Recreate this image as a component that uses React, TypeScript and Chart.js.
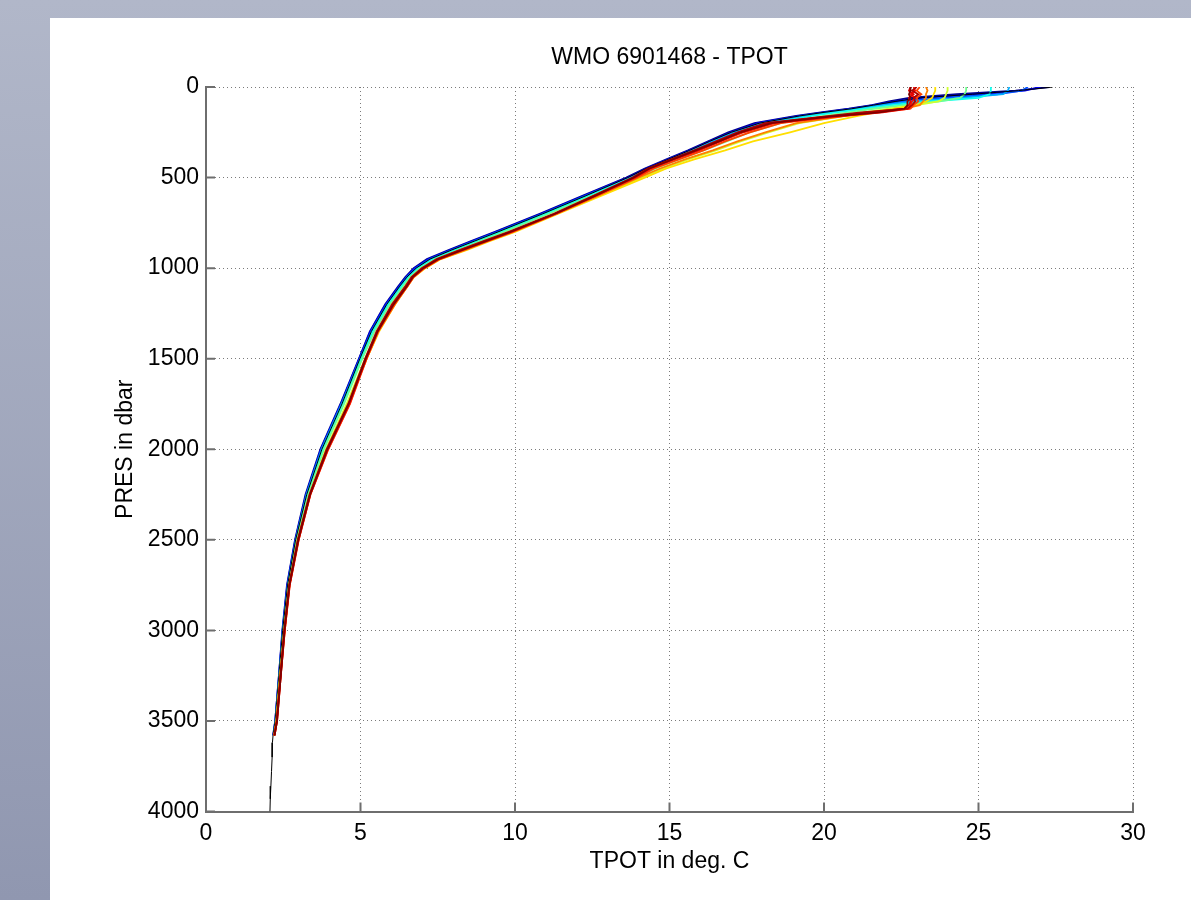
import React, { useEffect, useRef } from "react";
import { Chart, registerables } from "chart.js";

Chart.register(...registerables);

const TITLE = "WMO 6901468 - TPOT";
const X_LABEL = "TPOT in deg. C";
const Y_LABEL = "PRES in dbar";
const X_TICKS = [0, 5, 10, 15, 20, 25, 30];
const Y_TICKS = [0, 500, 1000, 1500, 2000, 2500, 3000, 3500, 4000];

// shared pressure levels (dbar) of the coloured profiles
const PRES = [0, 20, 40, 60, 80, 100, 120, 140, 160, 200, 250, 300, 350, 400, 450, 500, 600, 700, 800, 850, 900, 950, 1000, 1050, 1100, 1200, 1350, 1500, 1750, 2000, 2250, 2500, 2750, 3000, 3250, 3500, 3580];

// potential temperature (deg C) of each profile at PRES
const TPOT_P01 = [27.3, 26.2, 24.3, 22.75, 22.1, 21.55, 20.8, 19.9, 19.1, 17.75, 16.9, 16.25, 15.6, 14.9, 14.2, 13.6, 12.2, 10.8, 9.35, 8.6, 7.85, 7.15, 6.72, 6.45, 6.22, 5.8, 5.3, 4.95, 4.35, 3.7, 3.22, 2.88, 2.62, 2.47, 2.36, 2.24, 2.17];
const TPOT_P02 = [27.0, 26.5, 25.0, 23.2, 22.3, 21.6, 20.9, 20.0, 19.2, 17.85, 17.0, 16.3, 15.65, 14.95, 14.25, 13.65, 12.25, 10.85, 9.4, 8.65, 7.9, 7.2, 6.75, 6.48, 6.25, 5.82, 5.32, 4.96, 4.37, 3.72, 3.24, 2.89, 2.63, 2.48, 2.36, 2.24, 2.18];
const TPOT_P03 = [26.6, 26.4, 25.6, 23.8, 22.5, 21.7, 21.0, 20.1, 19.3, 17.95, 17.05, 16.35, 15.7, 15.0, 14.3, 13.7, 12.3, 10.9, 9.45, 8.7, 7.95, 7.25, 6.8, 6.5, 6.28, 5.85, 5.35, 4.98, 4.38, 3.73, 3.25, 2.9, 2.64, 2.48, 2.37, 2.25, 2.18];
const TPOT_P04 = [26.0, 25.95, 25.8, 24.5, 22.9, 21.9, 21.1, 20.2, 19.4, 18.05, 17.1, 16.4, 15.75, 15.05, 14.35, 13.75, 12.35, 10.95, 9.5, 8.75, 8.0, 7.3, 6.83, 6.53, 6.3, 5.88, 5.37, 5.0, 4.4, 3.75, 3.26, 2.91, 2.65, 2.49, 2.37, 2.25, 2.19];
const TPOT_P05 = [25.4, 25.4, 25.35, 25.0, 23.4, 22.2, 21.3, 20.4, 19.6, 18.3, 17.35, 16.6, 15.9, 15.15, 14.45, 13.8, 12.4, 11.0, 9.55, 8.8, 8.05, 7.35, 6.87, 6.56, 6.33, 5.9, 5.4, 5.02, 4.42, 3.77, 3.28, 2.92, 2.66, 2.5, 2.38, 2.26, 2.19];
const TPOT_P06 = [24.6, 24.6, 24.55, 24.4, 23.7, 22.6, 21.6, 20.8, 20.0, 18.6, 17.6, 16.85, 16.1, 15.3, 14.55, 13.9, 12.5, 11.1, 9.65, 8.9, 8.15, 7.42, 6.92, 6.6, 6.38, 5.95, 5.45, 5.06, 4.47, 3.82, 3.31, 2.94, 2.67, 2.51, 2.38, 2.26, 2.2];
const TPOT_P07 = [24.0, 24.0, 23.95, 23.9, 23.7, 23.0, 22.1, 21.3, 20.7, 19.2, 18.2, 17.3, 16.5, 15.6, 14.8, 14.1, 12.7, 11.3, 9.85, 9.05, 8.3, 7.5, 7.0, 6.66, 6.45, 6.05, 5.55, 5.15, 4.55, 3.88, 3.35, 2.97, 2.69, 2.53, 2.4, 2.28, 2.21];
const TPOT_P08 = [23.6, 23.6, 23.55, 23.5, 23.3, 23.0, 22.3, 21.7, 21.1, 20.0, 18.9, 17.7, 16.8, 15.8, 14.9, 14.2, 12.8, 11.4, 10.0, 9.2, 8.45, 7.6, 7.1, 6.72, 6.52, 6.12, 5.6, 5.2, 4.6, 3.92, 3.37, 2.98, 2.7, 2.54, 2.4, 2.28, 2.21];
const TPOT_P09 = [23.3, 23.35, 23.3, 23.3, 23.2, 23.1, 22.6, 21.5, 20.7, 19.1, 18.1, 17.2, 16.4, 15.5, 14.7, 14.0, 12.7, 11.35, 9.95, 9.15, 8.4, 7.58, 7.08, 6.72, 6.52, 6.12, 5.58, 5.2, 4.62, 3.94, 3.37, 2.99, 2.7, 2.55, 2.41, 2.29, 2.21];
const TPOT_P10 = [23.1, 23.0, 23.15, 23.0, 23.05, 22.9, 22.8, 21.7, 20.5, 18.6, 17.6, 16.8, 16.1, 15.3, 14.5, 13.95, 12.65, 11.35, 9.9, 9.12, 8.35, 7.56, 7.06, 6.71, 6.52, 6.1, 5.57, 5.2, 4.66, 3.96, 3.38, 3.0, 2.71, 2.55, 2.42, 2.3, 2.22];
const TPOT_P11 = [22.9, 22.95, 22.8, 22.95, 22.85, 22.8, 22.75, 21.9, 20.6, 18.4, 17.4, 16.65, 15.95, 15.15, 14.4, 13.9, 12.6, 11.3, 9.9, 9.1, 8.3, 7.55, 7.05, 6.7, 6.5, 6.08, 5.55, 5.18, 4.65, 3.95, 3.38, 3.0, 2.71, 2.55, 2.42, 2.3, 2.22];
const TPOT_P12 = [22.8, 22.75, 22.9, 22.75, 22.8, 22.75, 22.6, 21.4, 20.3, 18.2, 17.3, 16.6, 15.9, 15.1, 14.35, 13.85, 12.6, 11.3, 9.85, 9.05, 8.25, 7.5, 7.02, 6.68, 6.48, 6.05, 5.55, 5.18, 4.63, 3.93, 3.36, 2.98, 2.7, 2.54, 2.41, 2.29, 2.21];
const TPOT_P13 = [23.0, 22.85, 23.05, 22.9, 22.95, 22.85, 22.7, 21.2, 20.2, 18.1, 17.2, 16.5, 15.8, 15.05, 14.3, 13.8, 12.55, 11.25, 9.8, 9.0, 8.2, 7.46, 6.98, 6.65, 6.45, 6.02, 5.52, 5.15, 4.6, 3.9, 3.35, 2.97, 2.69, 2.53, 2.41, 2.29, 2.21];
const TPOT_P14 = [22.8, 22.8, 22.75, 22.8, 22.7, 22.7, 22.6, 21.8, 20.4, 18.3, 17.3, 16.6, 15.85, 15.1, 14.35, 13.85, 12.6, 11.3, 9.85, 9.08, 8.3, 7.52, 7.03, 6.69, 6.5, 6.07, 5.55, 5.17, 4.62, 3.93, 3.37, 2.99, 2.7, 2.54, 2.42, 2.3, 2.22];

// black reference profile reaching 4000 dbar
const PRES_REF = [0, 20, 40, 60, 80, 100, 120, 140, 160, 200, 250, 300, 350, 400, 450, 500, 600, 700, 800, 850, 900, 950, 1000, 1050, 1100, 1200, 1350, 1500, 1750, 2000, 2250, 2500, 2750, 3000, 3250, 3500, 3580, 3620, 3700, 3780, 3860, 3930, 4000];
const TPOT_REF = [27.4, 26.3, 24.8, 23.1, 22.3, 21.6, 20.9, 20.0, 19.2, 17.9, 17.0, 16.3, 15.65, 14.95, 14.25, 13.65, 12.3, 10.9, 9.45, 8.7, 7.95, 7.25, 6.8, 6.5, 6.27, 5.85, 5.35, 4.98, 4.4, 3.75, 3.26, 2.9, 2.64, 2.48, 2.36, 2.24, 2.17, 2.15, 2.14, 2.12, 2.1, 2.08, 2.07];

const PROFILES = [TPOT_P01, TPOT_P02, TPOT_P03, TPOT_P04, TPOT_P05, TPOT_P06, TPOT_P07, TPOT_P08, TPOT_P09, TPOT_P10, TPOT_P11, TPOT_P12, TPOT_P13, TPOT_P14];
const PROFILE_COLORS = ["#00008f", "#0000ef", "#0050ff", "#00afff", "#10ffef", "#70ff8f", "#cfff30", "#ffdf00", "#ff8000", "#ff4000", "#ff1000", "#df0000", "#b00000", "#800000"];

const FONT = "'Liberation Sans', Arial, Helvetica, sans-serif";
const AXIS_COLOR = "#6e6e6e";

const inwardTicks = {
  id: "inwardTicks",
  afterDatasetsDraw(chart: any) {
    const { ctx, chartArea, scales } = chart;
    ctx.save();
    ctx.strokeStyle = AXIS_COLOR;
    ctx.lineWidth = 2;
    ctx.beginPath();
    for (const v of Y_TICKS) {
      const y = scales.y.getPixelForValue(v);
      ctx.moveTo(chartArea.left, y);
      ctx.lineTo(chartArea.left + 9, y);
    }
    for (const v of X_TICKS) {
      const x = scales.x.getPixelForValue(v);
      ctx.moveTo(x, chartArea.bottom);
      ctx.lineTo(x, chartArea.bottom - 9);
    }
    ctx.stroke();
    ctx.restore();
  },
};

export default function App() {
  const ref = useRef<HTMLCanvasElement>(null);

  useEffect(() => {
    if (!ref.current) return;
    const datasets: any[] = PROFILES.map((t, i) => ({
      label: `Profile ${i + 1}`,
      data: PRES.map((p, k) => ({ x: t[k], y: p })),
      borderColor: PROFILE_COLORS[i],
      backgroundColor: PROFILE_COLORS[i],
      borderWidth: 1.8,
      pointRadius: 0,
      showLine: true,
      fill: false,
      tension: 0,
      order: PROFILES.length - i,
    }));
    datasets.push({
      label: "Reference",
      data: PRES_REF.map((p, k) => ({ x: TPOT_REF[k], y: p })),
      borderColor: "#000000",
      backgroundColor: "#000000",
      borderWidth: 1,
      pointRadius: 0,
      showLine: true,
      fill: false,
      tension: 0,
      order: 8.5,
    });

    const chart = new Chart(ref.current, {
      type: "scatter",
      data: { datasets },
      plugins: [inwardTicks],
      options: {
        animation: false,
        responsive: false,
        events: [],
        layout: { padding: { left: 0, top: 0, right: 58, bottom: 0 } },
        plugins: {
          legend: { display: false },
          tooltip: { enabled: false },
          title: {
            display: true,
            fullSize: false,
            text: TITLE,
            color: "#000",
            font: { family: FONT, size: 23, weight: "normal" },
            padding: { top: 26, bottom: 15.4 },
          },
        },
        scales: {
          x: {
            type: "linear",
            min: 0,
            max: 30,
            afterBuildTicks: (s: any) => {
              s.ticks = X_TICKS.map((v) => ({ value: v }));
            },
            afterFit: (s: any) => {
              s.height = 88.5;
            },
            ticks: {
              color: "#000",
              padding: 8,
              font: { family: FONT, size: 23 },
              maxRotation: 0,
              callback: (v: any) => String(v),
            },
            grid: {
              color: "rgba(90,90,90,0.8)",
              lineWidth: 1,
              drawTicks: false,
            },
            border: { display: true, color: AXIS_COLOR, width: 2, dash: [1, 3] },
            title: {
              display: true,
              text: X_LABEL,
              color: "#000",
              font: { family: FONT, size: 23 },
              padding: { top: 0, bottom: 25 },
            },
          },
          y: {
            type: "linear",
            min: 0,
            max: 4000,
            reverse: true,
            afterBuildTicks: (s: any) => {
              s.ticks = Y_TICKS.map((v) => ({ value: v }));
            },
            afterFit: (s: any) => {
              s.width = 156;
            },
            ticks: {
              color: "#000",
              padding: 7,
              font: { family: FONT, size: 23 },
              callback: (v: any) => String(v),
            },
            grid: {
              color: "rgba(90,90,90,0.8)",
              lineWidth: 1,
              drawTicks: false,
            },
            border: { display: true, color: AXIS_COLOR, width: 2, dash: [1, 3] },
            title: {
              display: true,
              text: Y_LABEL,
              color: "#000",
              font: { family: FONT, size: 23 },
              padding: { top: 62, bottom: 0 },
            },
          },
        },
      } as any,
    });
    return () => chart.destroy();
  }, []);

  return (
    <div
      style={{
        position: "fixed",
        left: 0,
        top: 0,
        width: 1191,
        height: 900,
        background: "linear-gradient(to bottom, #b1b7c9, #9097b0)",
      }}
    >
      <div
        style={{
          position: "absolute",
          left: 50,
          top: 18,
          width: 1141,
          height: 882,
          background: "#ffffff",
        }}
      >
        <canvas ref={ref} width={1141} height={882} style={{ display: "block" }} />
      </div>
    </div>
  );
}
